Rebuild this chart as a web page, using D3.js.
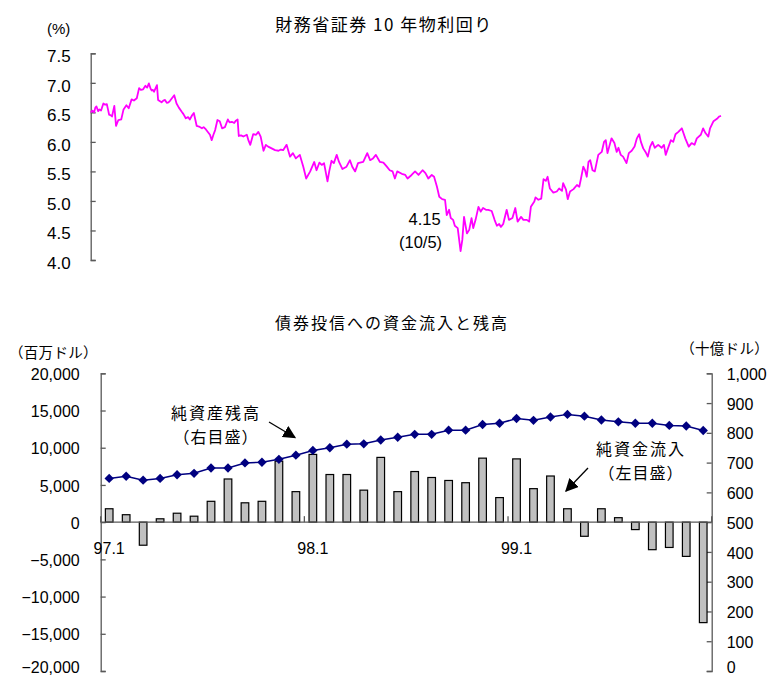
<!DOCTYPE html>
<html>
<head>
<meta charset="utf-8">
<script src="https://cdn.jsdelivr.net/npm/d3@7"></script>
<style>
  html, body { margin: 0; padding: 0; background: #fff; }
  svg { display: block; }
  .jp { font-family: "Noto Sans CJK JP", sans-serif; }
  .num { font-family: "Liberation Sans", Arial, sans-serif; }
</style>
</head>
<body>
<svg id="chart" width="773" height="679"></svg>
<script>
// ---- 10-year Treasury yield (days since 1997-01-01, percent) ----
const yieldDays = [0, 3, 6, 8, 10, 13, 15, 18, 22, 25, 28, 30, 32, 35, 37, 41, 44, 48, 53, 57,
  62, 66, 71, 75, 80, 84, 87, 91, 95, 98, 101, 104, 106, 108, 110, 115, 117, 123, 126, 129,
  132, 135, 138, 141, 145, 149, 153, 158, 161, 165, 169, 172, 176, 179, 184, 188, 193, 196, 200, 204,
  207, 210, 213, 216, 220, 224, 228, 233, 238, 241, 245, 249, 252, 255, 257, 261, 265, 271, 274, 277,
  282, 287, 291, 295, 300, 304, 308, 314, 320, 326, 330, 334, 340, 346, 351, 356, 363, 369, 374, 381,
  388, 392, 397, 401, 405, 411, 414, 418, 422, 427, 431, 437, 444, 450, 454, 459, 464, 473, 480, 485,
  490, 495, 502, 508, 514, 519, 524, 528, 532, 540, 546, 550, 557, 563, 569, 576, 581, 586, 592, 596,
  601, 605, 610, 615, 618, 622, 625, 629, 632, 637, 642, 645, 648, 653, 657, 661, 664, 668, 673, 677,
  681, 686, 690, 696, 701, 705, 709, 712, 716, 722, 726, 732, 737, 741, 747, 751, 757, 761, 764, 770,
  772, 777, 782, 786, 790, 793, 797, 803, 809, 813, 818, 820, 825, 828, 832, 838, 844, 848, 851, 855,
  858, 861, 864, 867, 871, 875, 878, 881, 887, 891, 894, 897, 900, 904, 909, 913, 916, 920, 924, 930,
  934, 939, 944, 948, 952, 955, 959, 963, 967, 971, 975, 979, 985, 991, 995, 998, 1003, 1007, 1011, 1015,
  1020, 1026, 1032, 1038, 1043, 1048, 1052, 1059, 1063, 1067, 1072, 1075, 1081, 1087, 1091, 1094];
const yieldValues = [6.50, 6.53, 6.50, 6.58, 6.60, 6.52, 6.55, 6.53, 6.65, 6.63, 6.64, 6.55, 6.46, 6.45, 6.43, 6.61, 6.27, 6.37, 6.38, 6.55,
  6.62, 6.57, 6.72, 6.70, 6.74, 6.91, 6.88, 6.89, 6.95, 6.92, 6.99, 6.90, 6.87, 6.88, 6.85, 6.96, 6.71, 6.67, 6.70, 6.71,
  6.66, 6.67, 6.70, 6.74, 6.79, 6.65, 6.58, 6.51, 6.47, 6.40, 6.42, 6.38, 6.45, 6.49, 6.27, 6.26, 6.23, 6.25, 6.21, 6.16,
  6.12, 6.03, 6.12, 6.20, 6.37, 6.35, 6.23, 6.25, 6.38, 6.33, 6.34, 6.32, 6.36, 6.38, 6.10, 6.11, 6.09, 6.12, 6.02, 5.95,
  6.13, 6.12, 6.17, 6.09, 5.85, 5.95, 5.92, 5.89, 5.86, 5.85, 5.87, 5.86, 5.95, 5.75, 5.81, 5.72, 5.78, 5.58, 5.38, 5.50,
  5.66, 5.52, 5.65, 5.61, 5.64, 5.33, 5.50, 5.68, 5.64, 5.78, 5.66, 5.54, 5.58, 5.69, 5.58, 5.50, 5.64, 5.66, 5.81, 5.69,
  5.72, 5.78, 5.66, 5.65, 5.58, 5.52, 5.50, 5.38, 5.50, 5.46, 5.44, 5.38, 5.44, 5.50, 5.44, 5.52, 5.47, 5.38, 5.44, 5.41,
  5.24, 5.07, 5.03, 5.02, 4.76, 4.85, 4.71, 4.68, 4.58, 4.54, 4.15, 4.34, 4.73, 4.45, 4.51, 4.71, 4.54, 4.68, 4.90, 4.82,
  4.88, 4.85, 4.85, 4.83, 4.68, 4.58, 4.61, 4.56, 4.61, 4.85, 4.68, 4.71, 4.88, 4.65, 4.73, 4.68, 4.68, 4.65, 4.90, 4.99,
  5.06, 5.02, 5.04, 5.37, 5.34, 5.41, 5.21, 5.14, 5.16, 5.21, 5.17, 5.30, 5.19, 5.03, 5.16, 5.20, 5.27, 5.24, 5.38, 5.58,
  5.52, 5.41, 5.66, 5.69, 5.52, 5.50, 5.64, 5.78, 5.83, 6.00, 6.03, 5.81, 5.92, 6.06, 5.98, 5.83, 5.90, 5.78, 5.75, 5.64,
  5.81, 5.85, 5.92, 6.06, 6.13, 6.00, 5.89, 5.83, 5.75, 5.92, 6.00, 5.90, 5.95, 5.90, 5.95, 5.78, 5.92, 6.03, 6.00, 6.13,
  6.17, 6.23, 6.06, 5.92, 5.98, 5.95, 6.06, 6.12, 6.23, 6.15, 6.09, 6.23, 6.35, 6.39, 6.43, 6.44];
const yieldTicks = [4.0, 4.5, 5.0, 5.5, 6.0, 6.5, 7.0, 7.5];
const lowLabel = "4.15";
const lowDateLabel = "(10/5)";

// ---- Bond fund flows (monthly, Jan 1997 - Dec 1999) ----
const months = d3.range(36).map(i => {
  const y = 97 + Math.floor(i / 12), m = i % 12 + 1;
  return y + "." + m;
});
const netInflow = [1800, 1000, -3100, 450, 1200, 800, 2800, 5800, 2600, 2800, 8200, 4100,
  9100, 6400, 6400, 4300, 8700, 4100, 6800, 6000, 5600, 5300, 8600, 3300,
  8500, 4500, 6200, 1800, -1900, 1800, 600, -1000, -3700, -3400, -4600, -13500];
const netAssets = [647, 654, 641, 647, 659, 664, 682, 682, 699, 701, 711, 725,
  741, 750, 762, 763, 776, 785, 795, 795, 809, 809, 828, 832,
  848, 842, 853, 862, 856, 843, 837, 832, 832, 825, 823, 808];
const monthLabels = ["97.1", "98.1", "99.1"];
const leftTicks = [-20000, -15000, -10000, -5000, 0, 5000, 10000, 15000, 20000];
const rightTicks = [0, 100, 200, 300, 400, 500, 600, 700, 800, 900, 1000];

const svg = d3.select("#chart");
const axisColor = "#595959";
const fmtComma = d3.format(",");
const signed = v => (v < 0 ? "\u2212" + fmtComma(-v) : fmtComma(v));

// ================= Upper panel: yield line =================
const start = Date.UTC(1997, 0, 1);
const yieldData = yieldDays.map((d, i) => ({ date: new Date(start + d * 864e5), v: yieldValues[i] }));

const xTop = d3.scaleUtc()
  .domain([new Date(start), new Date(Date.UTC(1999, 11, 31))])
  .range([90.7, 721]);
const yTop = d3.scaleLinear().domain([4.0, 7.5]).range([260, 53.3]);

svg.append("text").attr("class", "jp")
  .attr("x", 384).attr("y", 31).attr("text-anchor", "middle")
  .attr("font-size", 17).attr("letter-spacing", 1.5).text("財務省証券 10 年物利回り");
svg.append("text").attr("class", "num")
  .attr("x", 47).attr("y", 33.5).attr("font-size", 15).text("(%)");

const gTop = svg.append("g").attr("transform", "translate(90.7,0)");
gTop.call(d3.axisLeft(yTop).tickValues(yieldTicks).tickFormat(d3.format(".1f"))
  .tickSize(-5).tickPadding(20));
gTop.select(".domain").attr("stroke", axisColor).attr("stroke-width", 1.3);
gTop.selectAll(".tick line").attr("stroke", axisColor).attr("stroke-width", 1.3);
gTop.selectAll(".tick text").attr("class", "num").attr("font-size", 17)
  .attr("dy", "0.5em").attr("fill", "#000");

svg.append("path")
  .datum(yieldData)
  .attr("fill", "none")
  .attr("stroke", "#ff00ff")
  .attr("stroke-width", 1.8)
  .attr("stroke-linejoin", "round")
  .attr("d", d3.line().x(d => xTop(d.date)).y(d => yTop(d.v)));

const low = yieldData.reduce((a, b) => (b.v < a.v ? b : a));
svg.append("text").attr("class", "num")
  .attr("x", xTop(low.date) - 36).attr("y", yTop(low.v) - 26)
  .attr("text-anchor", "middle").attr("font-size", 16.5).text(lowLabel);
svg.append("text").attr("class", "num")
  .attr("x", xTop(low.date) - 40).attr("y", yTop(low.v) - 3)
  .attr("text-anchor", "middle").attr("font-size", 16.5).text(lowDateLabel);

// ================= Lower panel: flows and assets =================
const xB = d3.scaleBand().domain(d3.range(36)).range([100.7, 711.7])
  .paddingInner(0.55).paddingOuter(0.275);
const yL = d3.scaleLinear().domain([-20000, 20000]).range([671, 373.3]);
const yR = d3.scaleLinear().domain([0, 1000]).range([671, 373.3]);

svg.append("text").attr("class", "jp")
  .attr("x", 392).attr("y", 329).attr("text-anchor", "middle")
  .attr("font-size", 16).attr("letter-spacing", 2).text("債券投信への資金流入と残高");
svg.append("text").attr("class", "jp")
  .attr("x", 9).attr("y", 357.5).attr("font-size", 14.5).attr("letter-spacing", 0.3).text("（百万ドル）");
svg.append("text").attr("class", "jp")
  .attr("x", 769).attr("y", 354).attr("text-anchor", "end")
  .attr("font-size", 14.5).attr("letter-spacing", 0.3).text("（十億ドル）");

// the lowest labels sit against the bottom edge, so lift them a little
const labelDy = (v, lowest) => (v === lowest ? "0.12em" : "0.38em");

// left axis
const gL = svg.append("g").attr("transform", "translate(100.7,0)");
gL.call(d3.axisLeft(yL).tickValues(leftTicks).tickFormat(signed).tickSize(-5).tickPadding(21));
gL.select(".domain").attr("stroke", axisColor).attr("stroke-width", 1.3);
gL.selectAll(".tick line").attr("stroke", axisColor).attr("stroke-width", 1.3);
gL.selectAll(".tick text").attr("class", "num").attr("font-size", 16)
  .attr("dy", d => labelDy(d, -20000)).attr("fill", "#000");

// right axis
const gR = svg.append("g").attr("transform", "translate(711.7,0)");
gR.call(d3.axisRight(yR).tickValues(rightTicks).tickFormat(fmtComma).tickSize(-5).tickPadding(15));
gR.select(".domain").attr("stroke", axisColor).attr("stroke-width", 1.3);
gR.selectAll(".tick line").attr("stroke", axisColor).attr("stroke-width", 1.3);
gR.selectAll(".tick text").attr("class", "num").attr("font-size", 16)
  .attr("dy", d => labelDy(d, 0)).attr("fill", "#000");

// bars
svg.append("g").selectAll("rect")
  .data(netInflow)
  .join("rect")
  .attr("x", (d, i) => xB(i))
  .attr("width", xB.bandwidth())
  .attr("y", d => Math.min(yL(d), yL(0)))
  .attr("height", d => Math.abs(yL(d) - yL(0)))
  .attr("fill", "#c0c0c0")
  .attr("stroke", "#000")
  .attr("stroke-width", 1.2);

// category axis along zero
const zeroY = yL(0);
svg.append("line").attr("x1", 100.7).attr("x2", 711.7)
  .attr("y1", zeroY).attr("y2", zeroY)
  .attr("stroke", axisColor).attr("stroke-width", 1.3);
const step = xB.step();
[0, 12, 24, 36].forEach(i => {
  const x = 100.7 + i * step;
  svg.append("line").attr("x1", x).attr("x2", x)
    .attr("y1", zeroY).attr("y2", zeroY - 6)
    .attr("stroke", axisColor).attr("stroke-width", 1.3);
});
monthLabels.forEach(lbl => {
  const i = months.indexOf(lbl);
  svg.append("text").attr("class", "num")
    .attr("x", xB(i) + xB.bandwidth() / 2).attr("y", 554)
    .attr("text-anchor", "middle").attr("font-size", 16).text(lbl);
});

// net assets line with diamond markers
const cx = i => xB(i) + xB.bandwidth() / 2;
svg.append("path")
  .datum(netAssets)
  .attr("fill", "none").attr("stroke", "#000080").attr("stroke-width", 1.5)
  .attr("d", d3.line().x((d, i) => cx(i)).y(d => yR(d)));
svg.append("g").selectAll("path")
  .data(netAssets)
  .join("path")
  .attr("d", d3.symbol(d3.symbolSquare, 44))
  .attr("transform", (d, i) => `translate(${cx(i)},${yR(d)}) rotate(45)`)
  .attr("fill", "#000080");

// annotations with arrows
const defs = svg.append("defs");
defs.append("marker").attr("id", "head")
  .attr("viewBox", "0 0 10 10").attr("refX", 9).attr("refY", 5)
  .attr("markerWidth", 13).attr("markerHeight", 13).attr("markerUnits", "userSpaceOnUse")
  .attr("orient", "auto")
  .append("path").attr("d", "M0,0 L10,5 L0,10 Z").attr("fill", "#000");

svg.append("text").attr("class", "jp").attr("x", 216).attr("y", 419)
  .attr("text-anchor", "middle").attr("font-size", 16).attr("letter-spacing", 2).text("純資産残高");
svg.append("text").attr("class", "jp").attr("x", 216).attr("y", 443)
  .attr("text-anchor", "middle").attr("font-size", 16).attr("letter-spacing", 1).text("（右目盛）");
svg.append("line").attr("x1", 269).attr("y1", 422).attr("x2", 295).attr("y2", 437.5)
  .attr("stroke", "#000").attr("stroke-width", 1.3).attr("marker-end", "url(#head)");

svg.append("text").attr("class", "jp").attr("x", 641).attr("y", 455)
  .attr("text-anchor", "middle").attr("font-size", 16).attr("letter-spacing", 2).text("純資金流入");
svg.append("text").attr("class", "jp").attr("x", 641).attr("y", 479)
  .attr("text-anchor", "middle").attr("font-size", 16).attr("letter-spacing", 1).text("（左目盛）");
svg.append("line").attr("x1", 588).attr("y1", 468).attr("x2", 566).attr("y2", 491)
  .attr("stroke", "#000").attr("stroke-width", 1.3).attr("marker-end", "url(#head)");
</script>
</body>
</html>
